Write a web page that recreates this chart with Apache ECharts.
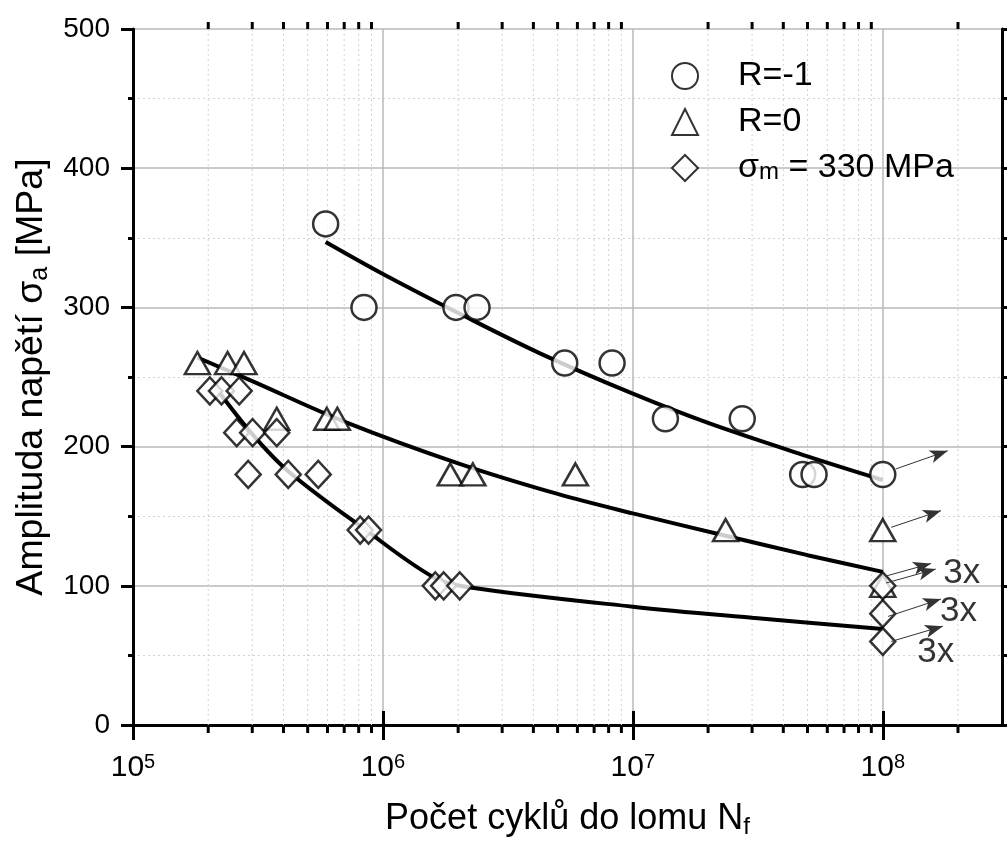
<!DOCTYPE html>
<html>
<head>
<meta charset="utf-8">
<script src="https://cdn.jsdelivr.net/npm/echarts@6/dist/echarts.min.js"></script>
<style>
  html, body { margin: 0; padding: 0; background: #fff; }
  #main { width: 1007px; height: 844px; }
</style>
</head>
<body>
<div id="main"></div>
<script>
// measured points [N cycles, stress amplitude MPa]
var rMinus1 = [[5.9e5, 360], [8.4e5, 300], [1.96e6, 300], [2.38e6, 300], [5.34e6, 260], [8.26e6, 260],
  [1.35e7, 220], [2.74e7, 220], [4.78e7, 180], [5.31e7, 180], [1e8, 180]];
var rZero = [[1.81e5, 260], [2.39e5, 260], [2.78e5, 260], [3.76e5, 220], [5.96e5, 220], [6.57e5, 220],
  [1.86e6, 180], [2.29e6, 180], [5.89e6, 180], [2.35e7, 140], [1e8, 140], [1e8, 100]];
var sigmaM = [[2.03e5, 240], [2.26e5, 240], [2.66e5, 240], [2.60e5, 210], [3.01e5, 210], [3.76e5, 210],
  [2.89e5, 180], [4.18e5, 180], [5.51e5, 180], [8.11e5, 140], [8.76e5, 140], [1.62e6, 100],
  [1.75e6, 100], [2.03e6, 100], [1e8, 100], [1e8, 80], [1e8, 60]];

// fitted curves
var fitRMinus1 = [[5.9e5, 347], [1e6, 324], [2e6, 296], [4.25e6, 267], [1e7, 238], [2e7, 217], [5e7, 193], [1e8, 176]];
var fitRZero = [[1.81e5, 264], [3e5, 247], [7e5, 218], [2e6, 188], [5e6, 166], [1e7, 152], [2.35e7, 136], [5e7, 122], [1e8, 110]];
var fitSigmaM = [[2.13e5, 243], [3e5, 209], [4.2e5, 182], [8.4e5, 141], [1.6e6, 106], [2.2e6, 99], [1e7, 85], [3e7, 77], [1e8, 69]];

// run-out arrows (from, to) and the "3x" notes
var runoutArrows = [
  [[1.13e8, 184], [1.82e8, 197]],
  [[1.08e8, 142], [1.71e8, 154]],
  [[1.03e8, 107], [1.56e8, 116]],
  [[1.03e8, 102], [1.63e8, 112]],
  [[1.05e8, 78], [1.71e8, 90.5]],
  [[1.08e8, 60], [1.74e8, 71]]
];
var noteSpots = [[2.07e8, 108.7], [2.01e8, 82], [1.63e8, 52]];

var legendNames = ['R=-1', 'R=0', 'σm = 330 MPa'];
var xMin = 1e5, xMax = 3e8;
var yTicks = [0, 100, 200, 300, 400, 500];

// minor decade ticks 2..9
var minorTicks = [];
for (var d = 5; d <= 8; d++) {
  for (var m = 2; m <= 9; m++) {
    var v = m * Math.pow(10, d);
    if (v < xMax) minorTicks.push([v, 0]);
  }
}

var FONT = 'Liberation Sans, Arial, sans-serif';
var chart = echarts.init(document.getElementById('main'));

function powLabel(val) {
  var e = Math.round(Math.log(val) / Math.LN10);
  if (Math.abs(Math.pow(10, e) - val) / val > 1e-6) return '';
  return '{base|10}{sup|' + e + '}';
}

var markerStyle = { color: '#fff', borderColor: '#000', borderWidth: 2.5 };

function fitLine(data) {
  return {
    type: 'line', data: data, smooth: 0.35, symbol: 'none', z: 2,
    lineStyle: { color: '#000', width: 4 }, silent: true
  };
}

var option = {
  animation: false,
  backgroundColor: '#fff',
  textStyle: { fontFamily: FONT },
  grid: { left: 133, right: 5, top: 29, bottom: 117 },
  legend: {
    data: legendNames,
    orient: 'vertical',
    left: 666, top: 54,
    itemWidth: 26, itemHeight: 26, itemGap: 12,
    selectedMode: false,
    textStyle: {
      fontFamily: FONT, fontSize: 34, color: '#000',
      padding: [0, 0, 0, 35],
      rich: {
        n: { fontFamily: FONT, fontSize: 34, lineHeight: 32, color: '#000' },
        sub: { fontFamily: FONT, fontSize: 24, lineHeight: 4, verticalAlign: 'bottom', color: '#000' }
      }
    },
    formatter: function (name) {
      if (name === legendNames[2]) return '{n|σ}{sub|m}{n| = 330 MPa}';
      return '{n|' + name + '}';
    }
  },
  xAxis: [{
    type: 'log', logBase: 10, min: xMin, max: xMax,
    name: 'Počet cyklů do lomu N{sub|f}',
    nameLocation: 'middle', nameGap: 74,
    nameTextStyle: {
      fontFamily: FONT, fontSize: 36, color: '#000', lineHeight: 40,
      rich: { sub: { fontFamily: FONT, fontSize: 24, lineHeight: 8, verticalAlign: 'bottom', color: '#000' } }
    },
    axisLine: { lineStyle: { color: '#000', width: 3 } },
    axisTick: { length: 15, lineStyle: { color: '#000', width: 3 } },
    axisLabel: {
      margin: 27, showMaxLabel: false,
      fontFamily: FONT, fontSize: 30, color: '#000',
      formatter: powLabel,
      rich: {
        base: { fontFamily: FONT, fontSize: 30, lineHeight: 32, color: '#000' },
        sup: { fontFamily: FONT, fontSize: 20, lineHeight: 15, verticalAlign: 'top', color: '#000' }
      }
    },
    splitLine: { show: true, lineStyle: { color: '#b8b8b8', width: 1.5 } }
  }, {
    type: 'log', logBase: 10, min: xMin, max: xMax, position: 'top',
    axisLine: { lineStyle: { color: '#000', width: 3 } },
    axisTick: { length: 14, lineStyle: { color: '#000', width: 3 } },
    axisLabel: { show: false },
    splitLine: { show: false }
  }],
  yAxis: [{
    type: 'value', min: yTicks[0], max: yTicks[yTicks.length - 1], interval: 100,
    name: 'Amplituda napětí σ{sub|a} [MPa]',
    nameLocation: 'middle', nameGap: 80,
    nameTextStyle: {
      fontFamily: FONT, fontSize: 37.5, color: '#000', lineHeight: 42,
      rich: { sub: { fontFamily: FONT, fontSize: 25, lineHeight: 8, verticalAlign: 'bottom', color: '#000' } }
    },
    axisLine: { show: true, lineStyle: { color: '#000', width: 3 } },
    axisTick: { show: true, length: 12, lineStyle: { color: '#000', width: 3 } },
    minorTick: { show: true, splitNumber: 2, length: 5, lineStyle: { color: '#000', width: 3 } },
    axisLabel: { fontFamily: FONT, fontSize: 28, color: '#000', margin: 23 },
    splitLine: { show: true, lineStyle: { color: '#b8b8b8', width: 1.5 } },
    minorSplitLine: { show: true, lineStyle: { color: '#d2d2d2', width: 1, type: [2, 3] } }
  }, {
    type: 'value', min: yTicks[0], max: yTicks[yTicks.length - 1], interval: 100, position: 'right',
    axisLine: { show: true, lineStyle: { color: '#000', width: 3 } },
    axisTick: { show: true, length: 6, lineStyle: { color: '#000', width: 3 } },
    minorTick: { show: true, splitNumber: 2, length: 6, lineStyle: { color: '#000', width: 3 } },
    axisLabel: { show: false },
    splitLine: { show: false }
  }],
  series: [
    {
      // dotted minor grid + minor ticks on bottom and top
      type: 'custom', data: minorTicks, z: 1, silent: true,
      encode: { x: 0, y: 1 },
      renderItem: function (params, api) {
        var x = api.coord([api.value(0), 0])[0];
        var top = params.coordSys.y;
        var bottom = params.coordSys.y + params.coordSys.height;
        return {
          type: 'group',
          children: [
            { type: 'line', shape: { x1: x, y1: top, x2: x, y2: bottom },
              style: { stroke: '#d2d2d2', lineWidth: 1, lineDash: [2, 3] } },
            { type: 'line', shape: { x1: x, y1: bottom, x2: x, y2: bottom + 8 },
              style: { stroke: '#000', lineWidth: 3 } },
            { type: 'line', shape: { x1: x, y1: top, x2: x, y2: top - 7 },
              style: { stroke: '#000', lineWidth: 3 } }
          ]
        };
      }
    },
    fitLine(fitRMinus1),
    fitLine(fitRZero),
    fitLine(fitSigmaM),
    {
      name: legendNames[0], type: 'scatter', data: rMinus1, z: 4,
      symbol: 'circle', symbolSize: 25, itemStyle: markerStyle
    },
    {
      name: legendNames[1], type: 'scatter', data: rZero, z: 4,
      symbol: 'triangle', symbolSize: [25, 22], itemStyle: markerStyle
    },
    {
      name: legendNames[2], type: 'scatter', data: sigmaM, z: 4,
      symbol: 'diamond', symbolSize: [25, 27], itemStyle: markerStyle
    },
    {
      // "3x" notes with run-out arrows
      type: 'scatter', data: noteSpots, symbolSize: 0, z: 5, silent: true,
      label: { show: true, position: 'inside', formatter: '3x', fontFamily: FONT, fontSize: 35, color: '#000' },
      markLine: {
        silent: true, animation: false,
        symbol: ['none', 'arrow'], symbolSize: [10, 18],
        label: { show: false },
        lineStyle: { color: '#333', width: 1, type: 'solid' },
        data: runoutArrows.map(function (a) {
          return [{ coord: a[0] }, { coord: a[1] }];
        })
      }
    }
  ]
};

chart.setOption(option);
</script>
</body>
</html>
